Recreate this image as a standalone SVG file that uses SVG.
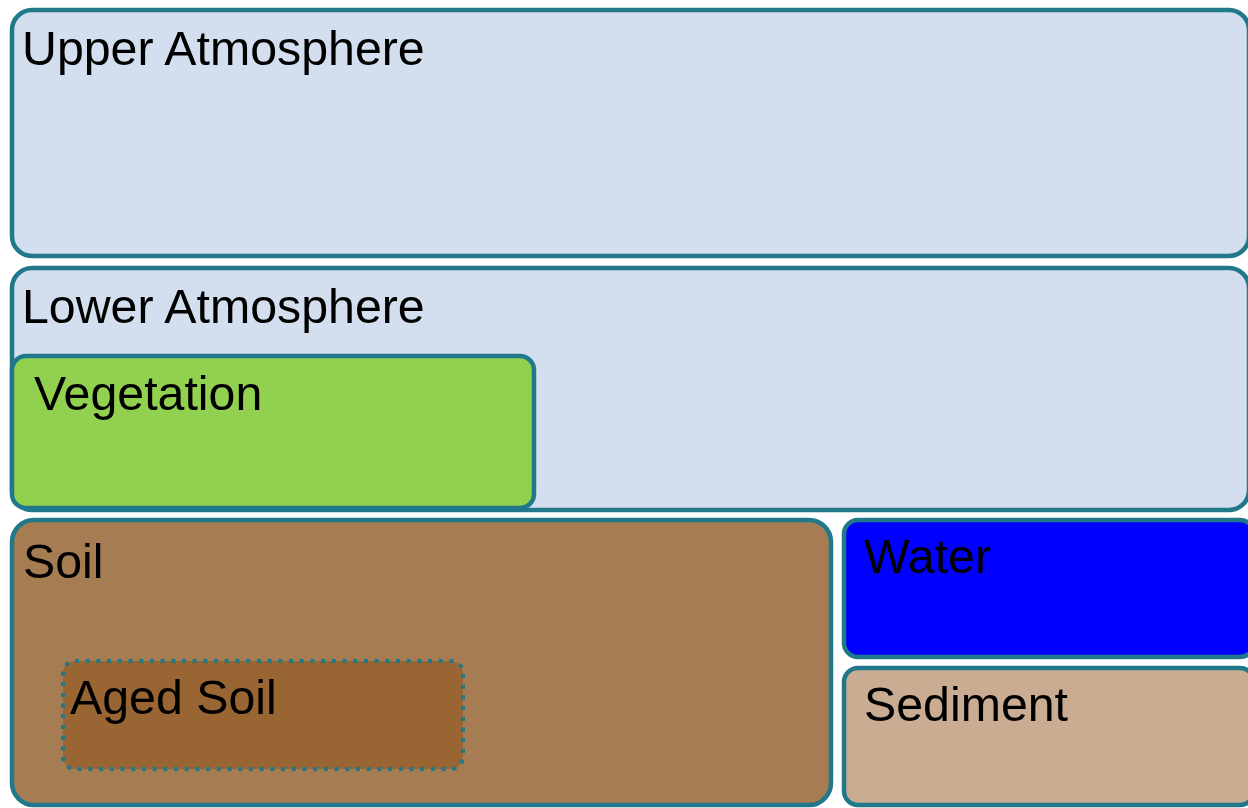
<svg xmlns="http://www.w3.org/2000/svg" width="1248" height="808" viewBox="0 0 1248 808">
  <style>
    .box { stroke: #21788a; stroke-width: 4.5; }
    .dotted { stroke: #21788a; stroke-width: 4; stroke-dasharray: 4 6.7; fill: #996633; }
    .label { font-family: "Liberation Sans", Arial, sans-serif; font-size: 48.3px; fill: #000000; }
  </style>
  <rect width="1248" height="808" fill="#ffffff"/>

  <g id="upper-atmosphere">
    <rect class="box" x="12" y="10" width="1237" height="246" rx="20" fill="#d3dfee"/>
    <text class="label" x="22" y="65">Upper Atmosphere</text>
  </g>

  <g id="lower-atmosphere">
    <rect class="box" x="12" y="268" width="1237" height="242" rx="20" fill="#d3dfee"/>
    <text class="label" x="22" y="323">Lower Atmosphere</text>
  </g>

  <g id="vegetation">
    <rect class="box" x="12" y="356" width="522" height="152" rx="14" fill="#92d050"/>
    <text class="label" x="34" y="410">Vegetation</text>
  </g>

  <g id="soil">
    <rect class="box" x="12" y="520" width="819" height="285" rx="22" fill="#a67c52"/>
    <text class="label" x="23" y="578">Soil</text>
  </g>

  <g id="aged-soil">
    <rect class="dotted" x="63" y="661" width="400" height="108" rx="12"/>
    <text class="label" x="70" y="714">Aged Soil</text>
  </g>

  <g id="water">
    <rect class="box" x="844" y="520" width="410" height="137" rx="14" fill="#0000ff"/>
    <text class="label" x="864" y="573">Water</text>
  </g>

  <g id="sediment">
    <rect class="box" x="844" y="668" width="410" height="137" rx="14" fill="#c9ac92"/>
    <text class="label" x="864" y="721">Sediment</text>
  </g>

  <g id="connectors"></g>
</svg>
